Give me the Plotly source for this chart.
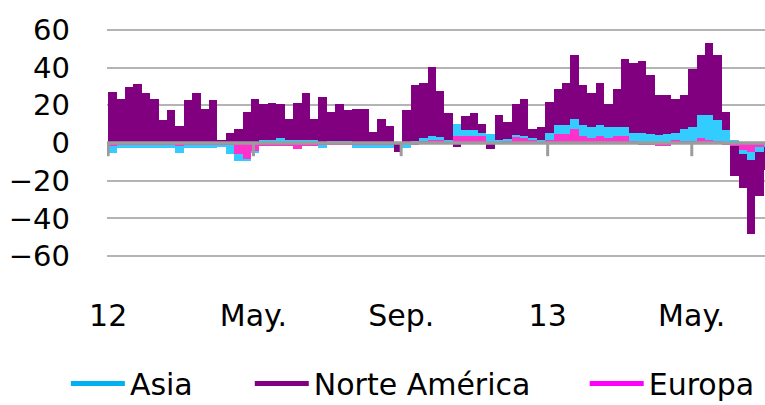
import pandas as pd
import plotly.graph_objects as go

# weekly flows, first week starting 2012-01-01
week_start = "2012-01-01"

norte_america = [
    27, 23.5, 29.7, 31.2, 26.7, 23.5, 12, 17.3, 8.8, 22.7,
    26.7, 18.2, 22.7, 1.4, 5.5, 7.6, 16.3, 23.5, 19, 19.9,
    18, 11.4, 19.9, 25.2, 11.4, 24.4, 15.3, 19.5, 16.3, 18.2,
    18.2, 5.7, 12.9, 8.8, -5, 17.3, 30, 29.5, 36.8, 24.2,
    14.3, -2, 7.5, 9.4, 4.4, -2.5, 13.2, 8.7, 16.1, 20,
    4.9, 6.8, 16.1, 19.1, 22.3, 34, 21.3, 18.2, 22.3, 12,
    20.3, 35.9, 37, 38, 31.3, 21.7, 21.1, 18, 18.1, 31,
    31.9, 38, 34.9, 9.6, -15.8, -17.7, -38.9, -23.3, -12.5,
]
asia = [
    -4, -1, -1, -1, -1, -1, -1, -1, -4, -1,
    -1, -1, -1, -0.5, -5, -3.9, -0.3, -0.3, 1.5, 1.5,
    2.5, 1.5, 1.5, 1.5, 1.5, -1, 1, 1, 1, -1.2,
    -1.2, -1.2, -1.2, -1.2, 0, -2, 1, 1.5, 2, 2,
    0.9, 6.4, 3.2, 3.2, 2, 4.6, 0.9, 0.9, 1.2, 0.8,
    0.9, 0.9, 3.7, 4.7, 4.7, 5.3, 6.2, 5.8, 6.2, 5.8,
    5, 5, 4.5, 5.5, 5, 4, 4.6, 4.1, 6.6, 7.5,
    12.3, 13.2, 11.1, 6.7, 1.4, -2.1, -4.4, -2.8, -1.5,
]
europa = [
    -1.5, -1.5, -1.5, -1.5, -1.5, -1.5, -1.5, -1.5, -1.5, -1.5,
    -1.5, -1.5, -1.5, -1.5, -1, -5.7, -9, -4.5, -1.5, -1.5,
    -1.5, -1.5, -3, -1.5, -1.5, -1.5, -1, -1, -1, -1.2,
    -1.2, -1.2, -1.2, -1.2, 0, -0.5, -1, 1, 1.5, 1.4,
    0.9, 3.5, 3.5, 3.5, 3.5, -0.5, 0.9, 1.4, 3.2, 2.7,
    1.8, 0.9, 1.8, 5, 5, 7.6, 3.5, 2.7, 3.5, 2.7,
    3.5, 3.5, 1, -1, -1, -1.5, -1.5, 1.4, 1, 1,
    2.7, 1.8, 0.9, -1, -1.7, -3.9, -4.8, -2, -0.5,
]

tick_dates = ["2012-01-01", "2012-05-01", "2012-09-01", "2013-01-01", "2013-05-01"]
tick_text = ["12", "May.", "Sep.", "13", "May."]
y_ticks = [-60, -40, -20, 0, 20, 40, 60]

C_ASIA = "#33CCFF"
C_NA = "#800080"
C_EU = "#FF33CC"
GREY = "#9C9C9C"
FONT = "DejaVu Sans"

weeks = pd.date_range(week_start, periods=len(norte_america), freq="7D")
x = weeks + pd.Timedelta(hours=84)
week_ms = 7 * 86400000

fig = go.Figure()
for name, vals, col in [("Europa", europa, C_EU), ("Asia", asia, C_ASIA),
                        ("Norte América", norte_america, C_NA)]:
    fig.add_trace(go.Bar(x=x, y=vals, name=name, width=week_ms,
                         marker=dict(color=col, line=dict(width=0)),
                         showlegend=False))

# legend entries drawn as short lines, each in its own legend box so the
# spacing can follow the original
legend_items = [("Asia", "#00B0F0", "legend", -0.0625),
                ("Norte América", C_NA, "legend2", 0.217),
                ("Europa", "#FF00FF", "legend3", 0.726)]
for name, col, leg, _ in legend_items:
    fig.add_trace(go.Scatter(x=[None], y=[None], mode="lines", name=name,
                             legend=leg, line=dict(color=col, width=5)))

# zero axis line on top of bars + tick marks hanging from it
fig.add_shape(type="line", xref="paper", x0=0, x1=1, yref="y", y0=0, y1=0,
              line=dict(color=GREY, width=3.5), layer="above")
for d in tick_dates:
    fig.add_shape(type="line", xref="x", x0=d, x1=d, yref="y", y0=0, y1=-7,
                  line=dict(color=GREY, width=3), layer="above")

leg_style = dict(orientation="h", xanchor="left", y=-0.233, yanchor="top",
                 font=dict(size=30), itemwidth=54, bgcolor="rgba(0,0,0,0)")

fig.update_layout(
    width=765, height=405,
    barmode="relative", bargap=0,
    paper_bgcolor="white", plot_bgcolor="white",
    margin=dict(l=107, r=0, t=11, b=113, autoexpand=False),
    font=dict(family=FONT, color="black"),
    xaxis=dict(range=["2011-12-31", "2013-07-01"], tickvals=tick_dates,
               ticktext=tick_text, ticks="", showgrid=False, showline=False,
               zeroline=False, tickfont=dict(size=30), ticklabelstandoff=3,
               automargin=False),
    yaxis=dict(range=[-79, 70], tickvals=y_ticks, showgrid=True,
               gridcolor="#B4B4B4", gridwidth=1.5, zeroline=False,
               showline=False, ticks="", tickfont=dict(size=29),
               ticklabelstandoff=36, automargin=False),
    legend=dict(x=legend_items[0][3], **leg_style),
    legend2=dict(x=legend_items[1][3], **leg_style),
    legend3=dict(x=legend_items[2][3], **leg_style),
)

# the page's default body margin would shift the fixed-size figure
fig.write_html("out.html", config={"displayModeBar": False},
               post_script="document.body.style.margin='0';")
